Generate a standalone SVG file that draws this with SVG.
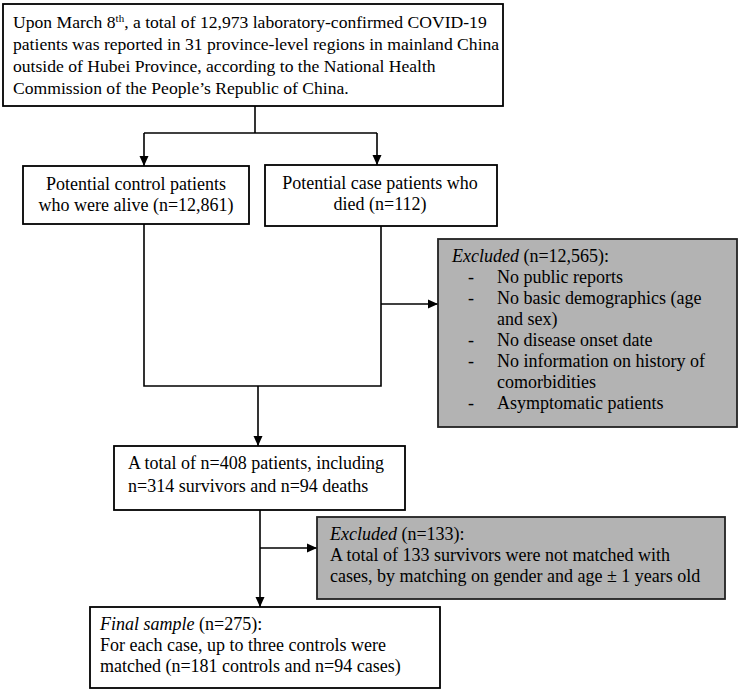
<svg xmlns="http://www.w3.org/2000/svg" width="739" height="691" viewBox="0 0 739 691">
<style>
.box{fill:#fff;stroke:#000;stroke-width:1.8}
.gbox{fill:#b3b3b3;stroke:#222;stroke-width:1.8}
text{font-family:"Liberation Serif","Times New Roman",serif;font-size:18px;fill:#000}
.t{font-size:17.6px}
.c{text-anchor:middle}
.ln{fill:none;stroke:#000;stroke-width:1.6}
</style>
<defs>
<marker id="ah" viewBox="0 0 10 10" refX="10" refY="5" markerWidth="10" markerHeight="10" markerUnits="userSpaceOnUse" orient="auto">
<path d="M0,0.5 L10,5 L0,9.5 Z" fill="#000"/>
</marker>
</defs>
<rect width="739" height="691" fill="#fff"/>
<g id="connectors">
<path class="ln" d="M255,106 V133"/>
<path class="ln" d="M144,133 H377"/>
<path class="ln" d="M144,133 V166" marker-end="url(#ah)"/>
<path class="ln" d="M377,133 V165" marker-end="url(#ah)"/>
<path class="ln" d="M144,224 V386 H381 V226"/>
<path class="ln" d="M258,386 V446" marker-end="url(#ah)"/>
<path class="ln" d="M381,304 H438" marker-end="url(#ah)"/>
<path class="ln" d="M260,510 V607" marker-end="url(#ah)"/>
<path class="ln" d="M260,548 H317" marker-end="url(#ah)"/>
</g>
<g id="source">
<rect class="box" x="3" y="4" width="500" height="102"/>
<text class="t" x="13" y="28">Upon March 8<tspan dy="-6" font-size="11">th</tspan><tspan dy="6">, a total of 12,973 laboratory-confirmed COVID-19</tspan></text>
<text class="t" x="13" y="50">patients was reported in 31 province-level regions in mainland China</text>
<text class="t" x="13" y="72">outside of Hubei Province, according to the National Health</text>
<text class="t" x="13" y="94">Commission of the People’s Republic of China.</text>
</g>
<g id="controls">
<rect class="box" x="23" y="166" width="226" height="58"/>
<text class="c" x="136" y="190">Potential control patients</text>
<text class="c" x="136" y="211">who were alive (n=12,861)</text>
</g>
<g id="cases">
<rect class="box" x="265" y="165" width="232" height="61"/>
<text class="c" x="380" y="189">Potential case patients who</text>
<text class="c" x="380" y="210">died (n=112)</text>
</g>
<g id="excluded1">
<rect class="gbox" x="438" y="239" width="299" height="188"/>
<text x="452" y="262"><tspan font-style="italic">Excluded</tspan> (n=12,565):</text>
<text x="468" y="283">-</text><text x="497" y="283">No public reports</text>
<text x="468" y="304">-</text><text x="497" y="304">No basic demographics (age</text>
<text x="497" y="325">and sex)</text>
<text x="468" y="346">-</text><text x="497" y="346">No disease onset date</text>
<text x="468" y="367">-</text><text x="497" y="367">No information on history of</text>
<text x="497" y="388">comorbidities</text>
<text x="468" y="409">-</text><text x="497" y="409">Asymptomatic patients</text>
</g>
<g id="total">
<rect class="box" x="114" y="446" width="291" height="64"/>
<text x="128" y="469">A total of n=408 patients, including</text>
<text x="128" y="492">n=314 survivors and n=94 deaths</text>
</g>
<g id="excluded2">
<rect class="gbox" x="317" y="517" width="408" height="82"/>
<text x="330" y="540" font-size="18.4"><tspan font-style="italic">Excluded</tspan> (n=133):</text>
<text x="330" y="561" font-size="18.4">A total of 133 survivors were not matched with</text>
<text x="330" y="582" font-size="18.4">cases, by matching on gender and age ± 1 years old</text>
</g>
<g id="final">
<rect class="box" x="90" y="607" width="350" height="81"/>
<text x="100" y="630"><tspan font-style="italic">Final sample</tspan> (n=275):</text>
<text x="100" y="651">For each case, up to three controls were</text>
<text x="100" y="672">matched (n=181 controls and n=94 cases)</text>
</g>
</svg>
